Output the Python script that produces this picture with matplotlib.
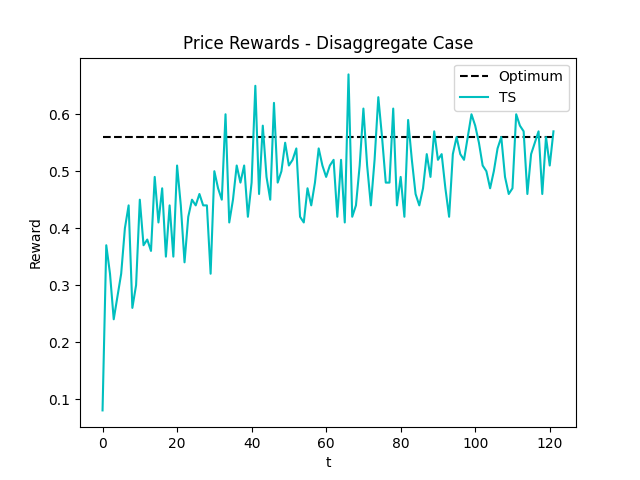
import matplotlib
matplotlib.use('Agg')
import matplotlib.pyplot as plt

# reward per round for the TS agent
ts_rewards = [0.08, 0.37, 0.32, 0.24, 0.28, 0.32, 0.40, 0.44, 0.26, 0.30,
              0.45, 0.37, 0.38, 0.36, 0.49, 0.41, 0.47, 0.35, 0.44, 0.35,
              0.51, 0.44, 0.34, 0.42, 0.45, 0.44, 0.46, 0.44, 0.44, 0.32,
              0.50, 0.47, 0.45, 0.60, 0.41, 0.45, 0.51, 0.48, 0.51, 0.42,
              0.48, 0.65, 0.46, 0.58, 0.49, 0.45, 0.62, 0.48, 0.50, 0.55,
              0.51, 0.52, 0.54, 0.42, 0.41, 0.47, 0.44, 0.48, 0.54, 0.51,
              0.49, 0.51, 0.52, 0.42, 0.52, 0.41, 0.67, 0.42, 0.44, 0.51,
              0.61, 0.51, 0.44, 0.52, 0.63, 0.56, 0.48, 0.48, 0.61, 0.44,
              0.49, 0.42, 0.59, 0.52, 0.46, 0.44, 0.47, 0.53, 0.49, 0.57,
              0.52, 0.53, 0.47, 0.42, 0.53, 0.56, 0.53, 0.52, 0.56, 0.60,
              0.58, 0.55, 0.51, 0.50, 0.47, 0.50, 0.54, 0.56, 0.49, 0.46,
              0.47, 0.60, 0.58, 0.57, 0.46, 0.53, 0.55, 0.57, 0.46, 0.56,
              0.51, 0.57]
optimum = 0.56
t = list(range(len(ts_rewards)))

fig, ax = plt.subplots(figsize=(6.4, 4.8), dpi=100)
ax.plot(t, [optimum] * len(t), 'k--', label='Optimum')
ax.plot(t, ts_rewards, color='c', label='TS')
ax.set_title('Price Rewards - Disaggregate Case')
ax.set_xlabel('t')
ax.set_ylabel('Reward')
ax.legend(loc='upper right')
plt.savefig('out.png')
